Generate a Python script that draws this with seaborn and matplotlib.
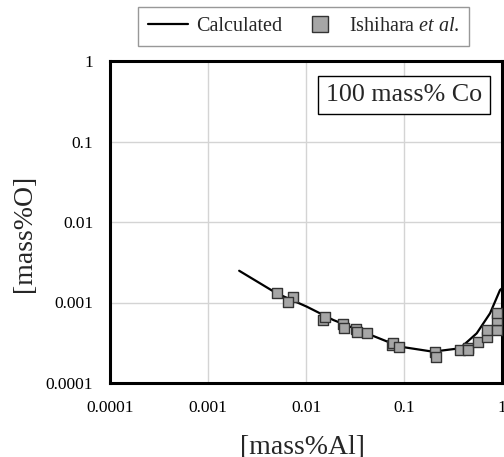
import numpy as np
import pandas as pd
import matplotlib
matplotlib.use('Agg')
import matplotlib.pyplot as plt
from matplotlib.lines import Line2D
from matplotlib.ticker import FixedLocator, FixedFormatter, NullLocator
import seaborn as sns

# Calculated curve
calc_al = [0.00208, 0.00502, 0.0102, 0.019, 0.0416, 0.091, 0.197, 0.373, 0.552, 0.755, 0.955, 1.0]
calc_o = [0.00248, 0.0013, 0.000887, 0.000606, 0.000414, 0.000283, 0.000245, 0.00027,
          0.000414, 0.000734, 0.00143, 0.0015]

# Ishihara et al. measurements
exp_al = [0.00502, 0.00741, 0.0065, 0.015, 0.0156, 0.024, 0.0244, 0.0324, 0.0334, 0.0416,
          0.0749, 0.0777, 0.0896, 0.207, 0.212, 0.373, 0.453, 0.453, 0.573, 0.698, 0.698,
          0.883, 0.883, 0.883]
exp_o = [0.0013, 0.00116, 0.00102, 0.000606, 0.000655, 0.00054, 0.000486, 0.000465, 0.000434,
         0.000422, 0.000296, 0.000311, 0.000283, 0.000245, 0.000212, 0.000257, 0.00027, 0.000257,
         0.000326, 0.000376, 0.000455, 0.000455, 0.000606, 0.000747]

tick_vals = [0.0001, 0.001, 0.01, 0.1, 1]
tick_labels = ['0.0001', '0.001', '0.01', '0.1', '1']

calc = pd.DataFrame({'Al': calc_al, 'O': calc_o})
exp = pd.DataFrame({'Al': exp_al, 'O': exp_o})

sns.set_style('white')
plt.rcParams['font.family'] = ['Liberation Serif', 'DejaVu Serif']
plt.rcParams['mathtext.fontset'] = 'custom'
plt.rcParams['mathtext.rm'] = 'Liberation Serif'
plt.rcParams['mathtext.it'] = 'Liberation Serif:italic'

fig = plt.figure(figsize=(5.04, 4.57), dpi=100)
ax = fig.add_axes([110 / 504, 1 - 383 / 457, 392 / 504, 322 / 457])

sns.lineplot(data=calc, x='Al', y='O', ax=ax, color='black', linewidth=1.6, zorder=3)
sns.scatterplot(data=exp, x='Al', y='O', ax=ax, marker='s', s=58, color='#a6a6a6',
                edgecolor='#333333', linewidth=1, zorder=4)

ax.set_xscale('log')
ax.set_yscale('log')
ax.set_xlim(1e-4, 1)
ax.set_ylim(1e-4, 1)

for axis in (ax.xaxis, ax.yaxis):
    axis.set_major_locator(FixedLocator(tick_vals))
    axis.set_major_formatter(FixedFormatter(tick_labels))
    axis.set_minor_locator(NullLocator())
ax.tick_params(axis='both', length=0, labelsize=12.5, pad=12, colors='black')
ax.grid(True, color='#d4d4d4', linewidth=1)
ax.set_axisbelow(True)

for sp in ax.spines.values():
    sp.set_color('black')
    sp.set_linewidth(2.2)

ax.set_xlabel('[mass%Al]', fontsize=20)
ax.set_ylabel('[mass%O]', fontsize=20)
ax.xaxis.set_label_coords(0.492, -0.16)
ax.yaxis.set_label_coords(-0.186, 0.463)

ax.text(0.75, 0.894, '100 mass% Co', transform=ax.transAxes, ha='center', va='center',
        fontsize=18.7, bbox=dict(boxstyle='square,pad=0.3', facecolor='white',
                                 edgecolor='black', linewidth=1))

handles = [Line2D([], [], color='black', linewidth=1.6),
           Line2D([], [], linestyle='none', marker='s', markersize=11,
                  markerfacecolor='#a6a6a6', markeredgecolor='#333333', markeredgewidth=1)]
leg = fig.legend(handles, ['Calculated', r'Ishihara $\it{et\ al.}$'], ncol=2,
                 loc='center', bbox_to_anchor=(303.5 / 504, 1 - 26.5 / 457),
                 fontsize=14.5, frameon=True, fancybox=False, handlelength=2.0,
                 handletextpad=0.4, columnspacing=0.9, borderpad=0.5)
leg.get_frame().set_edgecolor('#7f7f7f')
leg.get_frame().set_linewidth(1)

fig.savefig('out.png', dpi=100)
